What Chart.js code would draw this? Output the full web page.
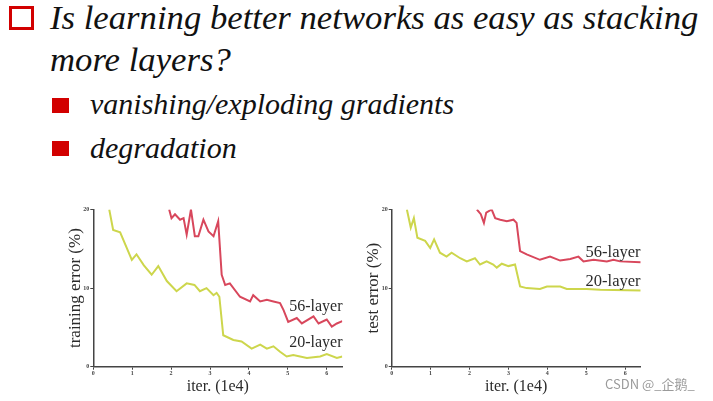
<!DOCTYPE html>
<html>
<head>
<meta charset="utf-8">
<script src="https://cdn.jsdelivr.net/npm/chart.js@4.4.1/dist/chart.umd.min.js"></script>
<style>
  body { margin: 0; background: #fff; width: 713px; height: 401px; overflow: hidden; position: relative; }
  .txt { position: absolute; font-family: 'Liberation Serif', 'Times New Roman', serif; font-style: italic; line-height: 1; color: #111; white-space: nowrap; }
  .box { position: absolute; }
  .chartbox { position: absolute; top: 200px; width: 300px; height: 200px; }
  #mark { position: absolute; left: 605px; top: 377px; font: 13px 'Noto Sans CJK SC', 'DejaVu Sans', sans-serif; color: #9a9a9a; line-height: 1; }
</style>
</head>
<body>

<div class="box" style="left:9px;top:6px;width:19px;height:18px;border:3px solid #d20000;"></div>
<div class="txt" style="left:50px;top:1px;font-size:34.7px;">Is learning better networks as easy as stacking</div>
<div class="txt" style="left:50px;top:43px;font-size:34.7px;">more layers?</div>

<div class="box" style="left:52px;top:98px;width:17px;height:15px;background:#d20000;"></div>
<div class="txt" style="left:90px;top:89px;font-size:30px;">vanishing/exploding gradients</div>
<div class="box" style="left:52px;top:141px;width:17px;height:15px;background:#d20000;"></div>
<div class="txt" style="left:90px;top:133px;font-size:30px;">degradation</div>

<div class="chartbox" style="left:55px;"><canvas id="trainChart" width="300" height="200"></canvas></div>
<div class="chartbox" style="left:355px;"><canvas id="testChart" width="300" height="200"></canvas></div>

<div id="mark">CSDN @_企鹅_</div>

<script>
// iterations (x 1e4) and error (%)
var train20Iter = [0.41, 0.51, 0.69, 0.99, 1.11, 1.3, 1.5, 1.67, 1.89, 2.14, 2.4, 2.6, 2.74, 2.91, 3.09, 3.17, 3.24, 3.34, 3.6, 3.81, 4.07, 4.29, 4.46, 4.63, 4.8, 4.97, 5.14, 5.49, 5.83, 6.0, 6.26, 6.4]
var train20Err = [20, 17.4, 17.1, 13.6, 14.3, 12.9, 11.7, 12.8, 10.9, 9.6, 10.6, 10.4, 9.6, 10.0, 9.1, 9.4, 8.9, 4.0, 3.4, 3.2, 2.3, 2.8, 2.3, 2.6, 1.9, 1.3, 1.5, 1.1, 1.3, 1.6, 1.1, 1.3]

var train56Iter = [1.95, 2.01, 2.1, 2.23, 2.32, 2.4, 2.51, 2.61, 2.7, 2.83, 2.96, 3.09, 3.21, 3.3, 3.39, 3.51, 3.77, 4.03, 4.11, 4.29, 4.46, 4.63, 4.8, 4.89, 5.01, 5.23, 5.36, 5.66, 5.79, 6.0, 6.13, 6.26, 6.4]
var train56Err = [20, 18.9, 19.4, 18.7, 18.9, 16.8, 20, 16.6, 16.6, 18.7, 17.2, 16.6, 18.5, 11.7, 10.4, 10.6, 8.9, 8.3, 9.1, 8.3, 8.5, 8.3, 8.1, 7.2, 5.7, 6.2, 5.5, 6.4, 5.5, 6.0, 5.1, 5.5, 5.8]

var test20Iter = [0.39, 0.49, 0.57, 0.66, 0.86, 0.99, 1.09, 1.24, 1.41, 1.54, 1.76, 1.93, 2.14, 2.27, 2.44, 2.61, 2.7, 2.83, 3.0, 3.17, 3.3, 3.47, 3.81, 3.99, 4.33, 4.5, 5.01, 5.36, 6.4]
var test20Err = [20, 17.7, 18.9, 16.4, 16.0, 15.1, 16.2, 14.5, 14.0, 14.5, 13.8, 13.4, 13.8, 13.0, 13.4, 13.0, 12.6, 13.1, 12.8, 13.0, 10.2, 10.0, 9.9, 10.2, 10.2, 9.9, 9.9, 9.8, 9.7]

var test56Iter = [2.19, 2.29, 2.37, 2.43, 2.57, 2.66, 2.79, 2.96, 3.13, 3.21, 3.3, 3.47, 3.81, 4.07, 4.33, 4.59, 4.8, 4.93, 5.19, 5.53, 5.7, 5.87, 6.4]
var test56Err = [20, 19.4, 18.3, 19.6, 20, 18.9, 18.7, 18.5, 18.7, 18.3, 14.7, 14.3, 13.6, 14.0, 13.5, 13.7, 14.0, 13.4, 13.6, 13.4, 13.6, 13.4, 13.3]

var seriesNames = ["56-layer", "20-layer"]
var xTicks = [0, 1, 2, 3, 4, 5, 6]
var yTicks = [0, 10, 20]

var RED = "#d8475c"
var YEL = "#cdd64c"
var INK = "#2b2b2b"
var SERIF = "'Liberation Serif', 'Times New Roman', serif"

function toPoints(xs, ys) {
    return xs.map(function (x, i) { return { x: x, y: ys[i] } })
}

// writes the series names next to the curves, placed in data units
var seriesLabels = {
    id: "seriesLabels",
    afterDatasetsDraw: function (chart, args, opts) {
        var ctx = chart.ctx
        var xs = chart.scales.x, ys = chart.scales.y
        ctx.save()
        ctx.font = opts.size + "px " + SERIF
        ctx.fillStyle = INK
        ctx.textAlign = "center"
        ctx.textBaseline = "middle"
        opts.items.forEach(function (it) {
            ctx.fillText(it.text, xs.getPixelForValue(it.x), ys.getPixelForValue(it.y))
        })
        ctx.restore()
    }
}

function makeChart(id, yTitle, d56, d20, opt) {
    return new Chart(id, {
        type: "scatter",
        data: {
            datasets: [{
                label: seriesNames[0],
                data: d56,
                showLine: true,
                borderColor: RED,
                borderWidth: 2,
                pointRadius: 0
            }, {
                label: seriesNames[1],
                data: d20,
                showLine: true,
                borderColor: YEL,
                borderWidth: 2,
                pointRadius: 0
            }]
        },
        options: {
            responsive: false,
            animation: false,
            layout: { padding: { top: 9.5, right: opt.padRight, left: 0, bottom: 0 } },
            plugins: {
                legend: { display: false },
                tooltip: { enabled: false },
                seriesLabels: { size: opt.labelSize, items: opt.labels }
            },
            scales: {
                x: {
                    type: "linear",
                    min: 0,
                    max: 6.4,
                    afterFit: function (s) { s.height = 33.3 },
                    afterBuildTicks: function (s) { s.ticks = xTicks.map(function (v) { return { value: v } }) },
                    border: { display: true, color: "#444", width: 1.5 },
                    grid: { drawOnChartArea: false, color: "#444", tickLength: 3, lineWidth: 1 },
                    ticks: { font: { size: 6, family: SERIF, weight: "bold" }, color: "#444", padding: 0, maxRotation: 0 },
                    title: { display: true, text: "iter. (1e4)", font: { size: 16, family: SERIF }, color: INK, padding: { top: 0, bottom: 3.7 } }
                },
                y: {
                    min: 0,
                    max: 20,
                    afterFit: function (s) { s.width = opt.yWidth },
                    afterBuildTicks: function (s) { s.ticks = yTicks.map(function (v) { return { value: v } }) },
                    border: { display: true, color: "#444", width: 1.5 },
                    grid: { drawOnChartArea: false, color: "#444", tickLength: 3, lineWidth: 1 },
                    ticks: { font: { size: 6, family: SERIF, weight: "bold" }, color: "#444", padding: 1 },
                    title: { display: true, text: yTitle, font: { size: 17, family: SERIF }, color: INK, padding: { top: opt.yTitlePad, bottom: 0 } }
                }
            }
        },
        plugins: [seriesLabels]
    })
}

makeChart("trainChart", "training error (%)", toPoints(train56Iter, train56Err), toPoints(train20Iter, train20Err), {
    padRight: 12.7,
    yWidth: 38.3,
    yTitlePad: 10.5,
    labelSize: 16,
    labels: [{ text: seriesNames[0], x: 5.72, y: 7.6 }, { text: seriesNames[1], x: 5.72, y: 3.0 }]
})

makeChart("testChart", "test error (%)", toPoints(test56Iter, test56Err), toPoints(test20Iter, test20Err), {
    padRight: 14.3,
    yWidth: 36.7,
    yTitlePad: 8.5,
    labelSize: 16.5,
    labels: [{ text: seriesNames[0], x: 5.69, y: 14.5 }, { text: seriesNames[1], x: 5.69, y: 10.85 }]
})
</script>
</body>
</html>
